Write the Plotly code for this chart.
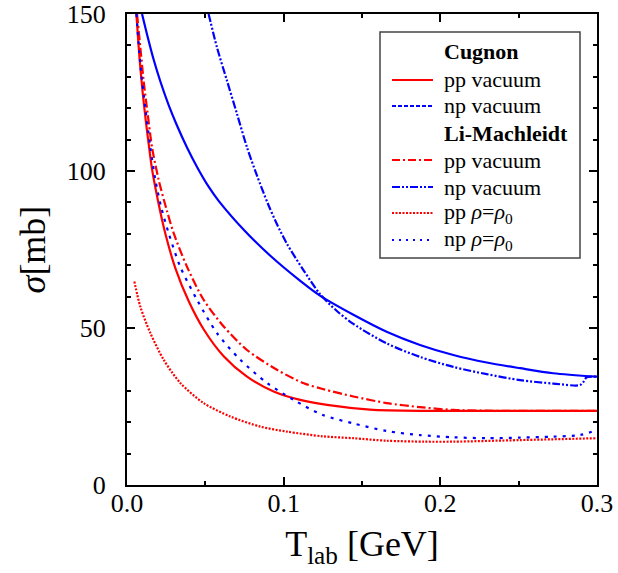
import plotly.graph_objects as go

# Cugnon pp vacuum
cug_pp_T = [0.006, 0.008, 0.010, 0.012, 0.014, 0.016, 0.0202, 0.0245, 0.0309, 0.0394, 0.0489,
            0.0617, 0.0766, 0.0936, 0.1106, 0.1277, 0.1551, 0.19, 0.23, 0.27, 0.3]
cug_pp_s = [150, 136, 125, 116, 108, 100.5, 89.5, 80, 69, 58.5, 49.6,
            41, 34.5, 29.8, 27.1, 25.5, 24.0, 23.6, 23.6, 23.6, 23.6]
# Cugnon np vacuum
cug_np_T = [0.0096, 0.0128, 0.017, 0.0213, 0.0266, 0.0319, 0.0383, 0.0447, 0.0521, 0.0585,
            0.0745, 0.0915, 0.1106, 0.1232, 0.1445, 0.1657, 0.187, 0.2083, 0.2296, 0.2509, 0.272, 0.3]
cug_np_s = [150, 143.5, 135.5, 128.5, 121, 114.5, 107.5, 101.3, 95, 90.5,
            81.3, 73, 65, 60.3, 54.2, 48.8, 44.6, 41.4, 39.0, 37.2, 35.6, 34.5]
# Li-Machleidt pp vacuum
lm_pp_T = [0.0064, 0.0085, 0.0106, 0.0132, 0.016, 0.0202, 0.0255, 0.0298, 0.0383, 0.0489, 0.0617,
           0.0766, 0.0957, 0.1128, 0.1255, 0.1445, 0.1657, 0.187, 0.2083, 0.24, 0.27, 0.3]
lm_pp_s = [150, 139.4, 128.8, 118.2, 107.5, 97.2, 87.3, 80.2, 69.5, 59, 50.5,
           43, 36.7, 32.4, 30.5, 28.2, 26.1, 24.8, 23.9, 23.6, 23.6, 23.6]
# Li-Machleidt np vacuum
lm_np_T = [0.0521, 0.0574, 0.0638, 0.0702, 0.0766, 0.083, 0.09, 0.0955, 0.1021, 0.1128, 0.1232,
           0.1338, 0.1445, 0.1657, 0.187, 0.2083, 0.2296, 0.2509, 0.2721, 0.289, 0.2913, 0.2934, 0.2998]
lm_np_s = [150, 139.4, 128.8, 118.2, 107.5, 98.5, 89.5, 83.3, 76.8, 68.3, 60.8,
           55.5, 51.3, 45.1, 40.8, 37.6, 35.3, 33.4, 32.3, 31.8, 32.8, 34.3, 34.5]
# pp rho = rho0
pp_rho_T = [0.0047, 0.0085, 0.0149, 0.0234, 0.034, 0.0489, 0.066, 0.0851, 0.1021, 0.125,
            0.1445, 0.1657, 0.19, 0.2083, 0.2509, 0.2998]
pp_rho_s = [64.8, 56.8, 48.4, 39.9, 32.5, 26.1, 21.8, 18.6, 17.0, 15.5,
            14.9, 14.1, 13.8, 13.8, 14.3, 14.9]
# np rho = rho0
np_rho_T = [0.006, 0.0085, 0.0117, 0.0149, 0.018, 0.0218, 0.0266, 0.034, 0.0447, 0.0574, 0.0723,
            0.0894, 0.1064, 0.1245, 0.1445, 0.1657, 0.187, 0.2083, 0.2296, 0.2509, 0.2721, 0.289, 0.2998]
np_rho_s = [150, 134, 120, 107.5, 97.5, 88.5, 80.2, 69.5, 59, 48.4, 39.9,
            32.5, 27.1, 22.4, 19.6, 17.2, 15.9, 15.2, 14.9, 15.1, 15.4, 15.9, 17.5]

# legend rows
legend_labels = ["<b>Cugnon</b>", "pp vacuum", "np vacuum", "<b>Li-Machleidt</b>",
                 "pp vacuum", "np vacuum",
                 "pp <i>ρ</i>=<i>ρ</i><sub>0</sub>", "np <i>ρ</i>=<i>ρ</i><sub>0</sub>"]

RED = "#ff0000"
BLUE = "#0000ff"
W = 2.2
FONT = "Liberation Serif"

legend_styles = [None, (RED, "solid"), (BLUE, "4px,2px"), None,
                 (RED, "8px,3px,2px,3px"), (BLUE, "8px,2px,2px,2px,2px,2px"),
                 (RED, "2px,1.5px"), (BLUE, "2px,5px")]

fig = go.Figure()

curves = [
    (cug_pp_T, cug_pp_s, RED, "solid"),
    (cug_np_T, cug_np_s, BLUE, "solid"),
    (lm_pp_T, lm_pp_s, RED, "9px,3px,2px,3px"),
    (lm_np_T, lm_np_s, BLUE, "8px,2px,2px,2px,2px,2px"),
    (pp_rho_T, pp_rho_s, RED, "2px,1.5px"),
    (np_rho_T, np_rho_s, BLUE, "3px,6px"),
]
for T, s, c, d in curves:
    fig.add_trace(go.Scatter(x=T, y=s, mode="lines", showlegend=False, hoverinfo="skip",
                             line=dict(color=c, width=W, dash=d, shape="spline", smoothing=0.8)))

# manual legend box (paper coordinates derived from pixel layout)
L, R, TOP, BOT = 127, 597, 14, 485


def px(x):
    return (x - L) / (R - L)


def py(y):
    return (BOT - y) / (BOT - TOP)


fig.add_shape(type="rect", xref="paper", yref="paper",
              x0=px(380), x1=px(580), y0=py(258), y1=py(32),
              line=dict(color="#444444", width=1.5), fillcolor="white", layer="above")
row_y = [52, 80, 106, 133, 160, 187, 213, 240]
for lab, sty, yy in zip(legend_labels, legend_styles, row_y):
    if sty is not None:
        fig.add_shape(type="line", xref="paper", yref="paper",
                      x0=px(392), x1=px(433), y0=py(yy), y1=py(yy),
                      line=dict(color=sty[0], width=W, dash=sty[1]), layer="above")
    fig.add_annotation(xref="paper", yref="paper", x=px(442), y=py(yy),
                       xanchor="left", yanchor="middle", showarrow=False,
                       text=lab, font=dict(family=FONT, size=22, color="black"))

fig.update_layout(
    width=618, height=573,
    margin=dict(l=127, r=21, t=14, b=88),
    paper_bgcolor="white", plot_bgcolor="white",
    font=dict(family=FONT, color="black", size=26),
    showlegend=False,
    xaxis=dict(range=[0, 0.3], tickvals=[0, 0.1, 0.2, 0.3], ticktext=["0.0", "0.1", "0.2", "0.3"],
               ticks="inside", ticklen=8, tickwidth=2, tickcolor="black",
               showline=True, linewidth=2, linecolor="black", mirror="ticks",
               showgrid=False, zeroline=False, automargin=False,
               minor=dict(tickvals=[0.05, 0.15, 0.25], ticks="inside", ticklen=4, tickwidth=1.5, tickcolor="black"),
               tickfont=dict(size=26), ticklabelstandoff=-6,
               title=dict(text="T<sub>lab</sub> [GeV]", font=dict(size=36), standoff=14)),
    yaxis=dict(range=[0, 150], tickvals=[0, 50, 100, 150],
               ticks="inside", ticklen=8, tickwidth=2, tickcolor="black",
               showline=True, linewidth=2, linecolor="black", mirror="ticks",
               showgrid=False, zeroline=False, automargin=False,
               minor=dict(dtick=10, ticks="inside", ticklen=4, tickwidth=1.5, tickcolor="black"),
               tickfont=dict(size=26), ticklabelstandoff=14,
               title=dict(text="<i>σ</i>[mb]", font=dict(size=36), standoff=10)),
)

fig.write_html("out.html")
